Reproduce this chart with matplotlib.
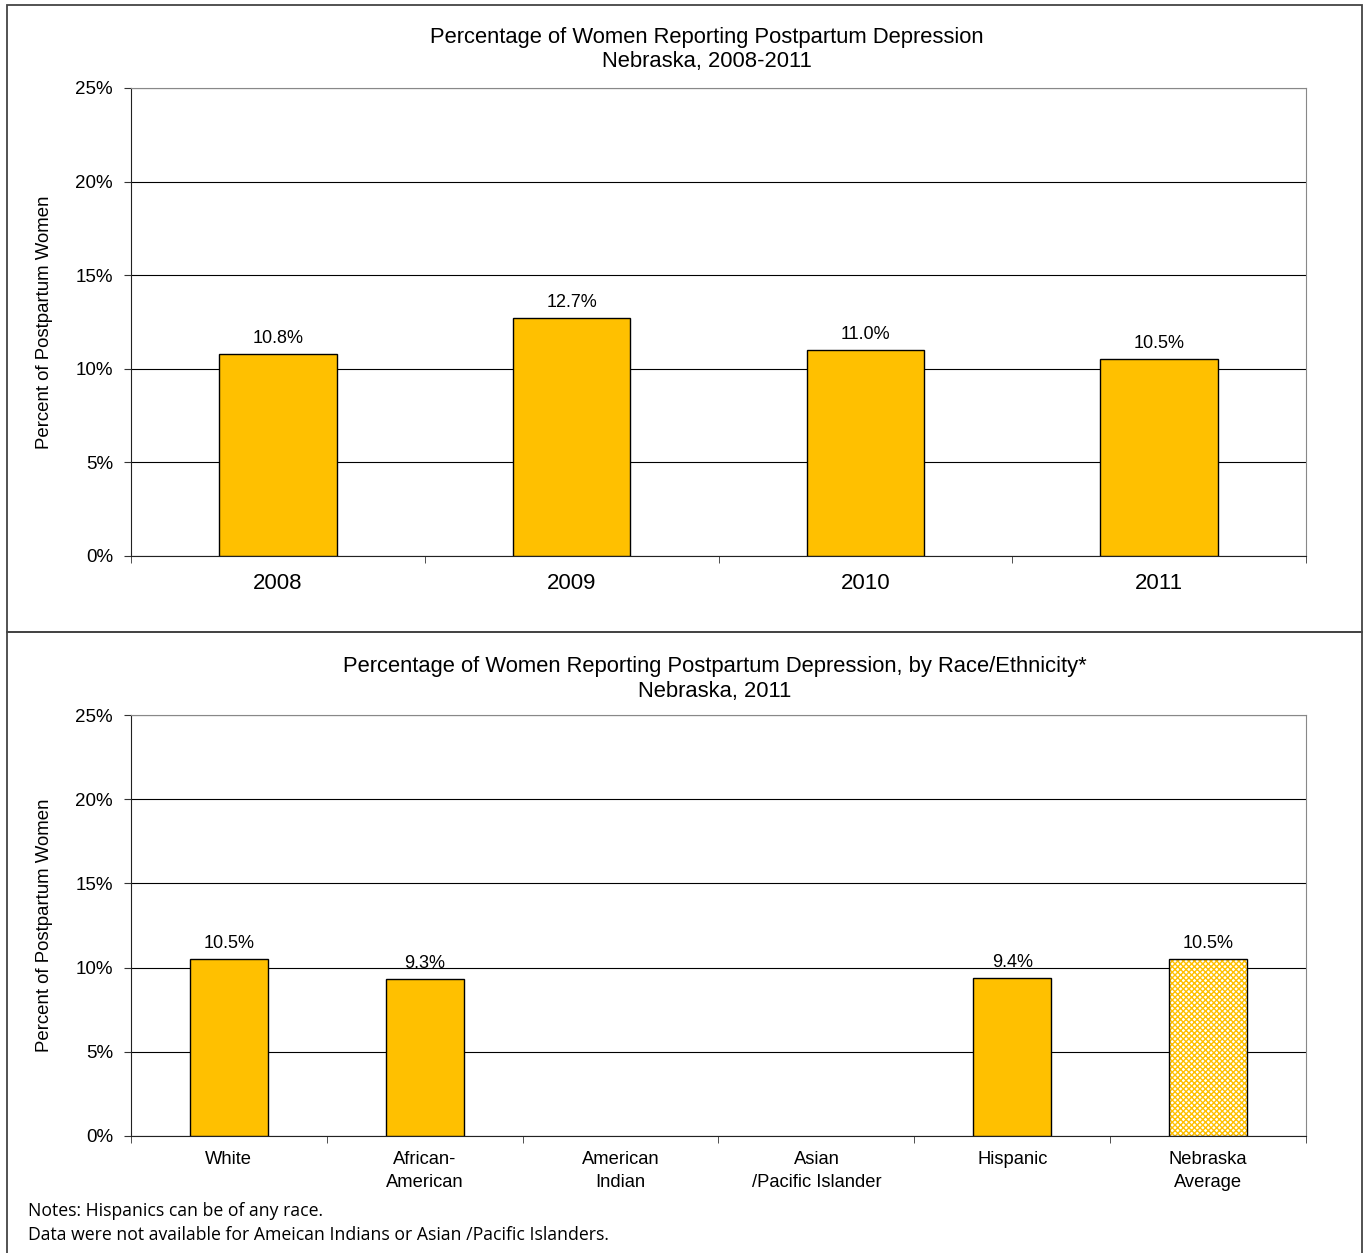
import numpy as np
import matplotlib
matplotlib.use('Agg')
import matplotlib.pyplot as plt
from matplotlib.patches import Rectangle

plt.rcParams['font.family'] = ['Liberation Sans', 'DejaVu Sans']

years = ['2008', '2009', '2010', '2011']
year_values = [10.8, 12.7, 11.0, 10.5]

groups = ['White', 'African-\nAmerican', 'American\nIndian', 'Asian\n/Pacific Islander', 'Hispanic', 'Nebraska\nAverage']
group_values = [10.5, 9.3, None, None, 9.4, 10.5]

title_top = ['Percentage of Women Reporting Postpartum Depression', 'Nebraska, 2008-2011']
title_bottom = ['Percentage of Women Reporting Postpartum Depression, by Race/Ethnicity*', 'Nebraska, 2011']
notes = ['Notes: Hispanics can be of any race.',
         'Data were not available for Ameican Indians or Asian /Pacific Islanders.']

bar_color = '#FFC000'
W, H = 1364, 1253

fig = plt.figure(figsize=(W / 100, H / 100), dpi=100)

# panel borders
fig.patches.append(Rectangle((7 / W, 1 - 632 / H), 1355 / W, 627 / H, transform=fig.transFigure,
                             fill=False, edgecolor='#444444', linewidth=1.3))
fig.patches.append(Rectangle((7 / W, -0.01), 1355 / W, (1253 - 632) / H + 0.01, transform=fig.transFigure,
                             fill=False, edgecolor='#444444', linewidth=1.3))


def style_axis(ax, n):
    ax.set_ylim(0, 25)
    ax.set_xlim(-0.5, n - 0.5)
    ax.set_yticks([0, 5, 10, 15, 20, 25])
    ax.set_yticklabels([f'{v}%' for v in [0, 5, 10, 15, 20, 25]], fontsize=13.5)
    ax.yaxis.grid(True, color='black', linewidth=0.8)
    ax.set_axisbelow(True)
    ax.set_xticks(np.arange(n))
    ax.set_xticks(np.arange(n + 1) - 0.5, minor=True)
    ax.tick_params(axis='x', which='major', length=0)
    ax.tick_params(axis='x', which='minor', length=5, direction='out', color='#333333')
    ax.tick_params(axis='y', length=5, direction='out', color='#333333', pad=8)
    ax.spines['top'].set_color('#888888')
    ax.spines['right'].set_color('#888888')
    ax.spines['left'].set_color('#222222')
    ax.spines['bottom'].set_color('#222222')
    ax.set_ylabel('Percent of Postpartum Women', fontsize=13.4, labelpad=16)


def title_lines(lines, cx, y1, y2):
    fig.text(cx / W, 1 - y1 / H, lines[0], fontsize=15.8, ha='center', va='center')
    fig.text(cx / W, 1 - y2 / H, lines[1], fontsize=15.8, ha='center', va='center')


# top chart
ax1 = fig.add_axes([131 / W, 1 - 556 / H, 1175 / W, 468 / H])
x1 = np.arange(len(years))
ax1.bar(x1, year_values, width=0.4, color=bar_color, edgecolor='black', linewidth=1, zorder=3)
for xi, v in zip(x1, year_values):
    ax1.annotate(f'{v:.1f}%', (xi, v), xytext=(0, 5), textcoords='offset points',
                 ha='center', va='bottom', fontsize=13)
style_axis(ax1, len(years))
ax1.set_xticklabels(years, fontsize=16)
ax1.tick_params(axis='x', which='major', pad=12)
title_lines(title_top, 707, 37, 62)

# bottom chart
ax2 = fig.add_axes([131 / W, 1 - 1136 / H, 1175 / W, 421 / H])
x2 = np.arange(len(groups))
for xi, v in zip(x2, group_values):
    if v is None:
        continue
    if xi == len(groups) - 1:
        ax2.bar(xi, v, width=0.4, color='white', edgecolor=bar_color, hatch='xxxxxx',
                linewidth=0, zorder=3)
        ax2.bar(xi, v, width=0.4, fill=False, edgecolor='black', linewidth=1, zorder=4)
    else:
        ax2.bar(xi, v, width=0.4, color=bar_color, edgecolor='black', linewidth=1, zorder=3)
    ax2.annotate(f'{v:.1f}%', (xi, v), xytext=(0, 5), textcoords='offset points',
                 ha='center', va='bottom', fontsize=13)
style_axis(ax2, len(groups))
ax2.set_xticklabels(groups, fontsize=13.2, linespacing=1.5)
ax2.tick_params(axis='x', which='major', pad=10.5)
title_lines(title_bottom, 715, 667, 692)

fig.text(28 / W, 1 - 1211 / H, notes[0], fontsize=12.7, ha='left', va='center',
         family=['Open Sans', 'DejaVu Sans'])
fig.text(28 / W, 1 - 1235 / H, notes[1], fontsize=12.7, ha='left', va='center',
         family=['Open Sans', 'DejaVu Sans'])

plt.savefig('out.png', dpi=100)
